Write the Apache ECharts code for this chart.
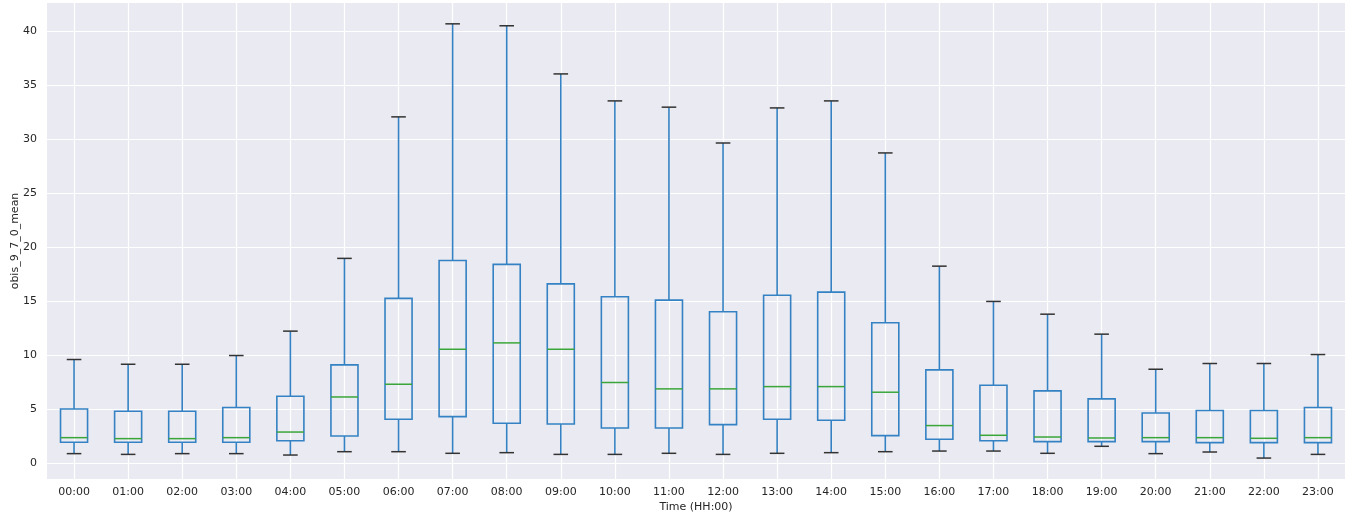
<!DOCTYPE html>
<html>
<head>
<meta charset="utf-8">
<script src="https://cdn.jsdelivr.net/npm/echarts@6/dist/echarts.min.js"></script>
<style>
html,body{margin:0;padding:0;background:#fff;}
#chart{width:1351px;height:519px;}
</style>
</head>
<body>
<div id="chart"></div>
<script>
const hours = ['00:00','01:00','02:00','03:00','04:00','05:00','06:00','07:00','08:00','09:00','10:00','11:00','12:00','13:00','14:00','15:00','16:00','17:00','18:00','19:00','20:00','21:00','22:00','23:00'];
const whiskerLow  = [0.90,0.83,0.90,0.90,0.77,1.08,1.08,0.93,0.99,0.83,0.83,0.93,0.83,0.93,0.99,1.08,1.14,1.14,0.93,1.58,0.90,1.05,0.49,0.83];
const q1          = [1.95,1.95,1.95,1.95,2.10,2.53,4.08,4.33,3.71,3.65,3.28,3.28,3.59,4.08,3.99,2.57,2.23,2.10,2.01,2.01,2.01,1.92,1.92,1.92];
const median      = [2.38,2.29,2.29,2.38,2.90,6.15,7.33,10.57,11.16,10.57,7.49,6.90,6.90,7.11,7.11,6.59,3.50,2.60,2.44,2.35,2.38,2.38,2.32,2.38];
const q3          = [5.04,4.82,4.82,5.17,6.21,9.12,15.28,18.80,18.43,16.63,15.43,15.12,14.04,15.58,15.86,13.02,8.66,7.24,6.71,5.97,4.67,4.89,4.89,5.17];
const whiskerHigh = [9.62,9.18,9.18,9.99,12.25,18.99,32.10,40.72,40.54,36.08,33.58,33.00,29.68,32.93,33.58,28.76,18.27,15.00,13.82,11.97,8.72,9.25,9.25,10.08];
const yTicks = [0,5,10,15,20,25,30,35,40];

const data = hours.map((h,i)=>[i, whiskerLow[i], q1[i], median[i], q3[i], whiskerHigh[i]]);

const BLUE = '#3482c3';
const GREEN = '#3aa63a';
const CAP = '#333333';

function renderItem(params, api){
  const x = api.value(0);
  const lo = api.coord([x, api.value(1)]);
  const a = api.coord([x, api.value(2)]);
  const m = api.coord([x, api.value(3)]);
  const b = api.coord([x, api.value(4)]);
  const hi = api.coord([x, api.value(5)]);
  const band = api.size([1,0])[0];
  const bw = band*0.5, cw = band*0.27;
  const cx = lo[0];
  const ls = {stroke: BLUE, lineWidth: 1.6, fill: null};
  return {type:'group', children:[
    {type:'line', shape:{x1:cx,y1:b[1],x2:cx,y2:hi[1]}, style:ls},
    {type:'line', shape:{x1:cx,y1:a[1],x2:cx,y2:lo[1]}, style:ls},
    {type:'rect', shape:{x:cx-bw/2,y:b[1],width:bw,height:a[1]-b[1]}, style:{stroke:BLUE,lineWidth:1.6,fill:'rgba(0,0,0,0)'}},
    {type:'line', shape:{x1:cx-bw/2,y1:m[1],x2:cx+bw/2,y2:m[1]}, style:{stroke:GREEN,lineWidth:1.5}},
    {type:'line', shape:{x1:cx-cw/2,y1:hi[1],x2:cx+cw/2,y2:hi[1]}, style:{stroke:CAP,lineWidth:1.5}},
    {type:'line', shape:{x1:cx-cw/2,y1:lo[1],x2:cx+cw/2,y2:lo[1]}, style:{stroke:CAP,lineWidth:1.5}}
  ]};
}

const chart = echarts.init(document.getElementById('chart'), null, {renderer:'canvas'});
const txt = {fontFamily:'DejaVu Sans', fontSize:11, color:'#262626'};
chart.setOption({
  animation:false,
  backgroundColor:'#ffffff',
  grid:{left:47, right:6, top:3, bottom:40, show:true, backgroundColor:'#EAEAF2', borderWidth:0,
        containLabel:false, outerBoundsMode:'none'},
  xAxis:{
    type:'category', data:hours, boundaryGap:true,
    name:'Time (HH:00)', nameLocation:'middle', nameGap:23, nameMoveOverlap:false,
    nameTextStyle:Object.assign({}, txt),
    axisLine:{show:false}, axisTick:{show:false, alignWithLabel:true},
    axisLabel:Object.assign({margin:8, interval:0}, txt),
    splitLine:{show:true, alignWithLabel:true, lineStyle:{color:'#ffffff', width:1.2}}
  },
  yAxis:{
    type:'value', min:-1.45, max:42.65, splitNumber:9,
    name:'obis_9_7_0_mean', nameLocation:'middle', nameGap:26, nameRotate:90, nameMoveOverlap:false,
    nameTextStyle:Object.assign({}, txt),
    axisLine:{show:false}, axisTick:{show:false},
    axisLabel:Object.assign({margin:10, showMinLabel:false, showMaxLabel:false,
      formatter:function(v){ return yTicks.indexOf(v)>=0 ? String(v) : ''; }}, txt),
    splitLine:{show:true, showMinLine:false, showMaxLine:false, lineStyle:{color:'#ffffff', width:1.2}}
  },
  series:[{
    type:'custom', renderItem:renderItem, data:data,
    encode:{x:0, y:[1,2,3,4,5]}, clip:false
  }]
});
</script>
</body>
</html>
